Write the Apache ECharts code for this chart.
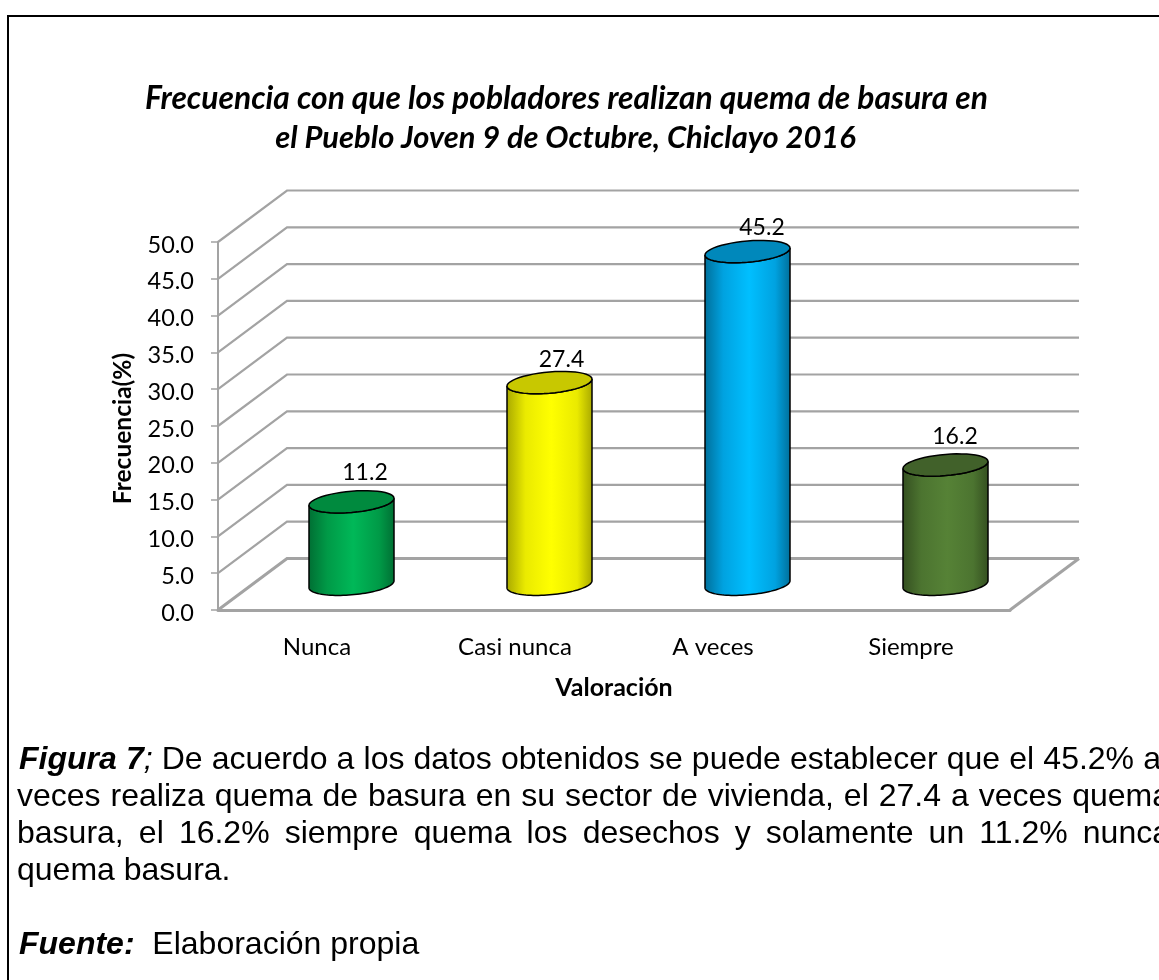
<!DOCTYPE html>
<html>
<head>
<meta charset="utf-8">
<style>html,body{margin:0;padding:0;background:#fff;overflow:hidden}#c{width:1159px;height:980px}</style>
<script src="https://cdn.jsdelivr.net/npm/echarts@6/dist/echarts.min.js"></script>
</head>
<body>
<div id="c"></div>
<script>
const categories = ['Nunca', 'Casi nunca', 'A veces', 'Siempre'];
const values = [11.2, 27.4, 45.2, 16.2];
const wallTicks = [0, 5, 10, 15, 20, 25, 30, 35, 40, 45, 50];
const titleLine1 = 'Frecuencia con que los pobladores realizan quema de basura en';
const titleLine2 = 'el Pueblo Joven 9 de Octubre, Chiclayo 2016';
const yName = 'Frecuencia(%)';
const xName = 'Valoración';

const sideDark = ['#006e33', '#a8a800', '#006e99', '#344f20'];
const sideMid = ['#009a47', '#eaea00', '#00a2e0', '#4c7430'];
const sideBright = ['#00b858', '#ffff00', '#00bfff', '#568236'];
const topColor = ['#008a3e', '#c8c800', '#0088bb', '#41612a'];
const labelOffsets = [[13.5, -29], [12, -23.5], [14.5, -23.5], [9.5, -28]];

const depthX = 69, depthY = 51.5, radiusX = 42.5, radiusY = 10.6, shear = 3.5;
const CHART_FONT = 'Lato';
const BODY_FONT = '"Liberation Sans"';

const captionLines = [
  {x: 19, y: 776, right: 1161, words: [[['Figura', 'bi']], [['7', 'bi'], [';', 'i']]].concat('De acuerdo a los datos obtenidos se puede establecer que el 45.2% a'.split(' ').map(w => [[w, 'n']]))},
  {x: 17, y: 813, right: 1170, words: 'veces realiza quema de basura en su sector de vivienda, el 27.4 a veces quema'.split(' ').map(w => [[w, 'n']])},
  {x: 17, y: 850, right: 1170, words: 'basura, el 16.2% siempre quema los desechos y solamente un 11.2% nunca'.split(' ').map(w => [[w, 'n']])},
  {x: 17, y: 887, words: 'quema basura.'.split(' ').map(w => [[w, 'n']])},
  {x: 19, y: 961, words: [[['Fuente:', 'bi']], [['\u00a0Elaboración', 'n']], [['propia', 'n']]]}
];

const measureCtx = document.createElement('canvas').getContext('2d');
function fontOf(st) {
  return (st === 'bi' ? 'italic bold ' : st === 'i' ? 'italic ' : '') + '32px ' + BODY_FONT;
}
function width(t, st) { measureCtx.font = fontOf(st); return measureCtx.measureText(t).width; }

function captionElements() {
  const out = [];
  captionLines.forEach(line => {
    const parts = line.words;
    const wide = parts.map(p => p.reduce((a, s) => a + width(s[0], s[1]), 0));
    const total = wide.reduce((a, b) => a + b, 0);
    let gap = width(' ', 'n');
    if (line.right) gap = (line.right - line.x - total) / (parts.length - 1);
    let x = line.x;
    parts.forEach((p, i) => {
      let px = x;
      p.forEach(s => {
        out.push({type: 'text', x: px, y: line.y, silent: true, style: {
          text: s[0], font: fontOf(s[1]), fill: '#000', textAlign: 'left', textVerticalAlign: 'bottom'
        }});
        px += width(s[0], s[1]);
      });
      x += wide[i] + gap;
    });
  });
  return out;
}

function ellipsePoints(cx, cy, from, to) {
  const pts = [], n = 48;
  for (let k = 0; k <= n; k++) {
    const t = from + (to - from) * k / n;
    pts.push([cx + radiusX * Math.cos(t), cy - shear * Math.cos(t) + radiusY * Math.sin(t)]);
  }
  return pts;
}

function renderWall(params, api) {
  const cs = params.coordSys;
  const v = api.value(0);
  const y = api.coord([0, v])[1];
  const l = cs.x, r = cs.x + cs.width;
  const floor = v === 0;
  const style = {stroke: '#a3a3a3', lineWidth: floor ? 3 : 2.2, fill: null};
  const children = [{type: 'polyline', shape: {points: [[l, y], [l + depthX, y - depthY], [r + depthX, y - depthY]]}, style}];
  if (floor) children.push({type: 'line', shape: {x1: r, y1: y, x2: r + depthX, y2: y - depthY}, style});
  return {type: 'group', children};
}

function renderCylinder(params, api) {
  const i = api.value(0);
  const base = api.coord([i, 0]);
  const top = api.coord([i, api.value(1)]);
  const cx = base[0] + depthX / 2;
  const by = base[1] - depthY / 2;
  const ty = top[1] - depthY / 2;
  const body = [].concat(ellipsePoints(cx, by, Math.PI, 0), ellipsePoints(cx, ty, 0, Math.PI));
  const grad = new echarts.graphic.LinearGradient(0, 0, 1, 0, [
    {offset: 0, color: sideDark[i]},
    {offset: 0.22, color: sideMid[i]},
    {offset: 0.52, color: sideBright[i]},
    {offset: 0.82, color: sideMid[i]},
    {offset: 1, color: sideDark[i]}
  ]);
  return {type: 'group', children: [
    {type: 'polygon', shape: {points: body}, style: {fill: grad, stroke: '#000', lineWidth: 1.5}},
    {type: 'polygon', shape: {points: ellipsePoints(cx, ty, 0, Math.PI * 2)}, style: {fill: topColor[i], stroke: '#000', lineWidth: 1.5}},
    {type: 'text', x: cx + labelOffsets[i][0], y: ty + labelOffsets[i][1], style: {
      text: api.value(1).toFixed(1), fontFamily: CHART_FONT, fontSize: 23, fill: '#000', textAlign: 'center', textVerticalAlign: 'middle'
    }}
  ]};
}

const chart = echarts.init(document.getElementById('c'), null, {renderer: 'canvas', width: 1159, height: 980});
chart.setOption({
  animation: false,
  backgroundColor: '#fff',
  title: [
    {text: titleLine1, left: 561.5, top: 78, textAlign: 'center',
     textStyle: {fontFamily: CHART_FONT, fontStyle: 'italic', fontWeight: 'bold', fontSize: 31.8, color: '#000'}},
    {text: titleLine2, left: 560.5, top: 118, textAlign: 'center',
     textStyle: {fontFamily: CHART_FONT, fontStyle: 'italic', fontWeight: 'bold', fontSize: 30.9, color: '#000'}}
  ],
  grid: {left: 218, top: 242, width: 792, height: 368, containLabel: false},
  xAxis: {
    type: 'category', data: categories, name: xName, nameLocation: 'middle', nameGap: 65,
    nameTextStyle: {fontFamily: CHART_FONT, fontWeight: 'bold', fontSize: 25, color: '#000'},
    axisLine: {lineStyle: {color: '#a3a3a3', width: 3}}, axisTick: {show: false},
    axisLabel: {fontFamily: CHART_FONT, fontSize: 24, color: '#000', margin: 25}
  },
  yAxis: {
    type: 'value', min: 0, max: 50, interval: 5, name: yName, nameLocation: 'middle', nameGap: 82,
    nameTextStyle: {fontFamily: CHART_FONT, fontWeight: 'bold', fontSize: 24.5, color: '#000', padding: [0, 5, 0, 0]},
    axisLine: {show: true, lineStyle: {color: '#a3a3a3', width: 2}},
    axisTick: {show: true, length: 7, lineStyle: {color: '#a3a3a3', width: 1.5}},
    splitLine: {show: false},
    axisLabel: {fontFamily: CHART_FONT, fontSize: 23.5, color: '#000', margin: 24, verticalAlign: 'top', lineHeight: 6, formatter: v => v.toFixed(1)}
  },
  series: [
    {type: 'custom', name: 'wall', z: 1, silent: true, clip: false, data: wallTicks.map(v => [v]), encode: {y: 0}, renderItem: renderWall},
    {type: 'custom', name: 'Frecuencia', z: 3, silent: true, clip: false, data: values.map((v, i) => [i, v]), encode: {x: 0, y: 1}, renderItem: renderCylinder}
  ],
  graphic: [
    {type: 'rect', silent: true, shape: {x: 8, y: 16, width: 1300, height: 1100}, style: {fill: null, stroke: '#000', lineWidth: 2}},
    ...captionElements()
  ]
});
</script>
</body>
</html>
